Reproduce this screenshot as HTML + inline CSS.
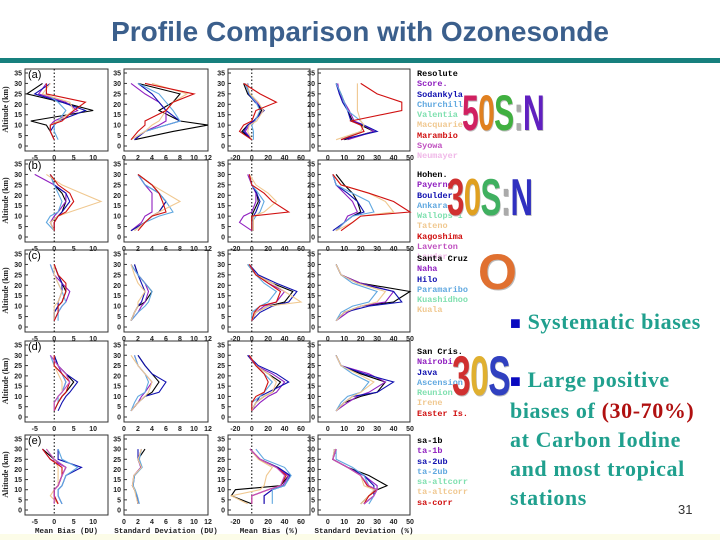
<!DOCTYPE html>
<html><head><meta charset="utf-8">
<style>
body{margin:0;background:#fff;}
#page{position:relative;width:720px;height:540px;overflow:hidden;background:#fff;font-family:"Liberation Sans",sans-serif;}
#title{position:absolute;left:0;width:720px;top:16px;text-align:center;font-size:28px;font-weight:bold;color:#3b5f8c;}
#bar{position:absolute;left:0;top:58px;width:720px;height:5px;background:#17807e;}
.leg{position:absolute;font-family:"Liberation Mono",monospace;font-size:8.5px;line-height:10.3px;font-weight:bold;}
.logo{position:absolute;font-family:"Liberation Sans",sans-serif;font-weight:bold;transform:scaleX(0.6);transform-origin:left top;letter-spacing:-1px;text-shadow:1px 1px 0 #bbb;}
.txt{position:absolute;left:510px;font-family:"Liberation Serif",serif;font-weight:bold;font-size:22px;letter-spacing:0.6px;color:#20a08e;line-height:29px;white-space:nowrap;}
.sq{color:#0a0ac0;font-size:18px;}
</style></head>
<body>
<div id="page">
<div style="position:absolute;left:0;top:534px;width:720px;height:6px;background:#fcfce8"></div>
<div id="title">Profile Comparison with Ozonesonde</div>
<div id="bar"></div>
<svg id="chart" width="720" height="540" style="position:absolute;left:0;top:0"></svg>

<div class="leg" style="left:417px;top:69px">
<div style="color:#000">Resolute</div><div style="color:#9020c0">Score.</div><div style="color:#1010b0">Sodankyla</div><div style="color:#60a8e0">Churchill</div><div style="color:#80e0b0">Valentia</div><div style="color:#f0c890">Macquarie</div><div style="color:#d01010">Marambio</div><div style="color:#c050c0">Syowa</div><div style="color:#f0b8e8">Neumayer</div></div>
<div class="leg" style="left:417px;top:170px">
<div style="color:#000">Hohen.</div><div style="color:#9020c0">Payerne</div><div style="color:#1010b0">Boulder</div><div style="color:#60a8e0">Ankara</div><div style="color:#80e0b0">Wallops I</div><div style="color:#f0c890">Tateno</div><div style="color:#d01010">Kagoshima</div><div style="color:#c050c0">Laverton</div><div style="color:#f0b8e8">Lauder</div></div>
<div class="leg" style="left:417px;top:254px">
<div style="color:#000">Santa Cruz</div><div style="color:#9020c0">Naha</div><div style="color:#1010b0">Hilo</div><div style="color:#60a8e0">Paramaribo</div><div style="color:#80e0b0">Kuashidhoo</div><div style="color:#f0c890">Kuala</div></div>
<div class="leg" style="left:417px;top:347px">
<div style="color:#000">San Cris.</div><div style="color:#9020c0">Nairobi</div><div style="color:#1010b0">Java</div><div style="color:#60a8e0">Ascension</div><div style="color:#80e0b0">Reunion</div><div style="color:#f0c890">Irene</div><div style="color:#d01010">Easter Is.</div></div>
<div class="leg" style="left:417px;top:436px">
<div style="color:#000">sa-1b</div><div style="color:#9020c0">ta-1b</div><div style="color:#1010b0">sa-2ub</div><div style="color:#60a8e0">ta-2ub</div><div style="color:#80e0b0">sa-altcorr</div><div style="color:#f0c890">ta-altcorr</div><div style="color:#d01010">sa-corr</div></div>

<div class="logo" style="left:462px;top:84px;font-size:50px"><span style="color:#d02060">5</span><span style="color:#e08020">0</span><span style="color:#40b040">S</span><span style="color:#aaa">:</span><span style="color:#6020c0">N</span></div>
<div class="logo" style="left:447px;top:168px;font-size:52px"><span style="color:#d03030">3</span><span style="color:#e0a020">0</span><span style="color:#40b060">S</span><span style="color:#aaa">:</span><span style="color:#3030c0">N</span></div>
<div class="logo" style="left:478px;top:243px;font-size:50px;transform:none"><span style="color:#e07030">O</span></div>
<div class="logo" style="left:452px;top:343px;font-size:56px"><span style="color:#d03030">3</span><span style="color:#e0b030">0</span><span style="color:#3040c0">S</span></div>

<div class="txt" style="top:307px"><span class="sq">■</span> Systematic biases</div>
<div class="txt" style="top:365px"><span class="sq">■</span> Large positive<br>biases of <span style="color:#b01010">(30-70%)</span><br>at Carbon Iodine<br>and most tropical<br>stations</div>
<div style="position:absolute;left:678px;top:502px;font-size:13px;color:#333">31</div>
</div>
<script>
const altitudes=[3,7,10,12,17,21,25,30];
const colors=['#000','#9020c0','#1010b0','#60a8e0','#80e0b0','#f0c890','#d01010','#c050c0','#f0b8e8'];
const yTicks=[0,5,10,15,20,25,30,35];
const col1Ticks=[-5,0,5,10];
const col2Ticks=[0,2,4,6,8,10,12];
const col3Ticks=[-20,0,20,40,60];
const col4Ticks=[0,10,20,30,40,50];
const rowLabels=['(a)','(b)','(c)','(d)','(e)'];
const xTitles=['Mean Bias (DU)','Standard Deviation (DU)','Mean Bias (%)','Standard Deviation (%)'];
// row a
const a1=[[0,-1,-2,-6,10,2,-7,-3],[0,-1,-1,0,6,3,-4,-2],[0,-1,0,1,8,2,-5,-1],[1,0,0,1,3,1,-2,-2],[0,-1,-1,1,5,4,-3,-1],[0,-1,-1,2,5,8,-2,-2]];
const a2=[[1.5,7,12,8,5,7,8,2],[1.5,3,5,6,6,5,3,1],[1.5,3,6,8,6,5,4,2],[1,3,6,8,7,6,5,2],[1,3,4,5,6,7,9,4],[1,2,3,3,6,7,10,3]];
const a3=[[0,-12,-5,3,12,5,-5,-10],[0,-8,-3,3,14,6,-3,-8],[0,-10,-5,2,15,4,-4,-5],[2,2,0,4,10,5,-3,-8],[0,-5,-3,6,14,8,-2,-6],[0,-15,-10,0,5,30,10,-10]];
const a4=[[10,28,20,15,12,10,8,5],[12,28,22,16,13,10,7,6],[8,30,22,14,12,9,7,5],[8,20,22,20,12,10,8,5],[5,20,22,20,18,18,18,18],[8,22,20,14,45,45,30,20]];
// row b
const b1=[[0,-1,1,2,3,2,0,-1],[0,-1,0,1,3,3,0,-5],[0,0,1,2,4,3,0,-1],[0,-2,-1,1,2,1,0,-1],[0,-1,1,4,12,7,2,-2],[0,0,1,3,5,4,1,-1]];
const b2=[[1,3,4,5,6,5,4,2],[1,2.5,3,4,4,4,3,2],[1,3,4,5,6,5,3,2],[1.5,3,5,7,6,5,3,2],[1.5,3,4,5,8,6,4,2],[2,3,4,6,5.5,5,4,2]];
const b3=[[0,0,0,2,8,6,0,-3],[0,-15,-10,0,5,5,0,-5],[2,2,2,5,10,6,0,-3],[0,0,5,10,15,8,0,-3],[2,2,2,15,30,20,5,-3],[0,0,0,45,25,15,0,-3]];
const b4=[[5,10,15,20,18,15,10,5],[5,10,12,18,15,10,5,3],[3,10,15,22,18,12,5,3],[5,10,15,28,25,15,5,3],[5,15,20,40,35,25,8,3],[8,15,20,50,40,25,8,3]];
// row c
const c1=[[0,0,1,2,3,2,1,0],[0,1,2,3,4,2,0,-1],[0,0,1,1,2,2,1,0],[1,1,2,3,2,1,0,-1],[0,0,0,1,2,1,0,0],[0,1,1,2,3,3,1,0]];
const c2=[[1,1.5,2,3,4,3,2,1.5],[1,2,2.5,3,3.5,3,2,1],[1,1.5,2,2.5,3,2.5,2,1.5],[1,2,3,3.5,4,3,2,1],[1,1.5,2,2,3,2,1.5,1]];
const c3=[[0,5,20,40,50,25,5,-5],[0,5,15,30,40,20,5,-3],[0,10,25,45,55,30,8,-3],[0,0,10,20,30,15,5,-5],[0,5,20,60,40,25,5,-3],[0,3,10,30,35,20,5,-3]];
const c4=[[5,10,20,40,50,20,8,5],[5,12,20,35,40,20,8,5],[5,10,25,45,40,18,8,5],[5,8,15,25,30,15,8,5],[5,10,20,30,35,18,8,5]];
// row d
const d1=[[0,1,2,3,5,3,1,0],[0,0,1,2,3,2,1,-1],[1,2,3,4,6,3,1,0],[0,1,1,2,3,2,0,-1],[0,0,1,2,2,1,0,0],[0,1,2,3,4,2,0,0],[0,0,1,2,4,3,1,-1]];
const d2=[[1,2,3,4,5,4,3,2],[1,2,2.5,3,4,3,2,1.5],[1,2,3,5,6,4,3,2],[1,1.5,2,3,3.5,3,2,1.5],[1,2,3,3.5,4,3,2,1]];
const d3=[[0,5,15,25,35,20,5,-5],[0,10,20,30,40,25,5,-5],[0,5,10,20,45,30,8,-5],[0,0,10,15,25,15,5,-3],[0,5,15,25,30,20,5,-3],[0,0,5,15,20,15,5,-3]];
const d4=[[5,10,20,30,35,20,8,5],[5,12,18,25,35,25,8,5],[5,10,15,30,40,22,8,5],[5,8,12,20,25,15,8,5],[5,10,15,20,28,18,8,5]];
// row e
const e1=[[1,0,0,1,2,3,0,-3],[1,0,0,1,2,3,-1,-3],[2,1,1,2,3,7,1,1],[2,1,1,2,3,6,2,1],[1,-1,0,1,1,1,0,-2],[1,0,0,1,2,2,-1,-3],[0,0,0,1,2,3,0,-2]];
const e2=[[2,1.8,1.5,1.2,1.5,2.5,2,3],[2,1.8,1.5,1.2,1.4,2.4,2,2.5],[2,1.8,1.5,1.3,1.5,2.5,2,2],[2.2,1.9,1.6,1.3,1.5,2.6,2.2,2.5],[2,1.7,1.5,1.2,1.4,2.5,2,2.5]];
const e3=[[0,-25,-20,35,45,30,10,-2],[15,15,25,38,45,30,10,-2],[15,15,25,40,47,32,10,-2],[25,25,25,40,48,40,15,5],[-5,-25,10,15,18,25,8,-2],[0,0,20,35,42,30,10,-2],[0,0,20,35,40,30,10,-2]];
const e4=[[20,25,30,36,25,12,3,5],[22,28,30,30,22,12,3,5],[22,28,28,28,22,12,3,4],[25,28,30,25,22,15,5,5],[20,25,28,22,20,12,3,4],[22,25,30,24,20,12,3,5],[22,28,30,25,20,12,3,5]];

const panelData=[[a1,a2,a3,a4],[b1,b2,b3,b4],[c1,c2,c3,c4],[d1,d2,d3,d4],[e1,e2,e3,e4]];
const svg=document.getElementById('chart');
const NS='http://www.w3.org/2000/svg';
const colBox=[[25,108,-7.5,13.8],[124,208,0,12],[228,310,-29,71],[318,410,-6,50]];
const rowTop=[73,164,254,345,439];
const rowSpan=[73,73,73,72,71];
const tickSets=[col1Ticks,col2Ticks,col3Ticks,col4Ticks];
const lineColorIdx=[0,1,2,3,5,6,7,4];
function mk(tag,attrs,parent){const e=document.createElementNS(NS,tag);for(const k in attrs)e.setAttribute(k,attrs[k]);(parent||svg).appendChild(e);return e;}
for(let r=0;r<5;r++){
  const y35=rowTop[r],y0=y35+rowSpan[r];
  const yS=a=>y0-(a/35)*(y0-y35);
  for(let c=0;c<4;c++){
    const [L,R,dmin,dmax]=colBox[c];
    const xS=v=>L+(v-dmin)/(dmax-dmin)*(R-L);
    const g=mk('g',{});
    
    
    const box=mk('rect',{x:L,y:y35-4,width:R-L,height:(y0-y35)+9,fill:'none',stroke:'#333','stroke-width':1},g);
    
    
    for(const t of yTicks){
      const lab=mk('text',{x:L-3,y:yS(t)+2.5,'font-size':7,'text-anchor':'end','font-family':'Liberation Sans, sans-serif','font-weight':'bold',fill:'#222'},g);
      lab.textContent=t;
      
      
      mk('line',{x1:L,x2:L+3,y1:yS(t),y2:yS(t),stroke:'#333'},g);
    }
    for(const t of tickSets[c]){
      const lab=mk('text',{x:xS(t),y:y0+14,'font-size':7,'text-anchor':'middle','font-family':'Liberation Sans, sans-serif','font-weight':'bold',fill:'#222'},g);
      lab.textContent=t;
      
      
    }
    if(c==0||c==2){
      const zl=mk('line',{x1:xS(0),x2:xS(0),y1:y35-4,y2:y0+5,stroke:'#000','stroke-dasharray':'1.5,2'},g);
      
      
    }
    panelData[r][c].forEach((s,i)=>{
      const pts=s.map((v,k)=>xS(v).toFixed(1)+','+yS(altitudes[k]).toFixed(1)).join(' ');
      const pl=mk('polyline',{points:pts,fill:'none',stroke:colors[lineColorIdx[i]],'stroke-width':1.1},g);
      
      
    });
    if(r==4){
      const xt=mk('text',{x:(L+R)/2,y:y0+23,'font-size':7.5,'text-anchor':'middle','font-family':'Liberation Mono, monospace','font-weight':'bold',fill:'#222'},g);
      xt.textContent=xTitles[c];
      
      
    }
  }
  const rl=mk('text',{x:28,y:y35+5,'font-size':11,'font-family':'Liberation Sans, sans-serif',fill:'#000'});
  rl.textContent=rowLabels[r];
  
  
  const yt=mk('text',{x:0,y:0,'font-size':8,'text-anchor':'middle','font-family':'Liberation Serif, serif','font-weight':'bold',fill:'#222',transform:'translate(8,'+((y35+y0)/2)+') rotate(-90)'});
  yt.textContent='Altitude (km)';
  
  
}
</script>
</body></html>
